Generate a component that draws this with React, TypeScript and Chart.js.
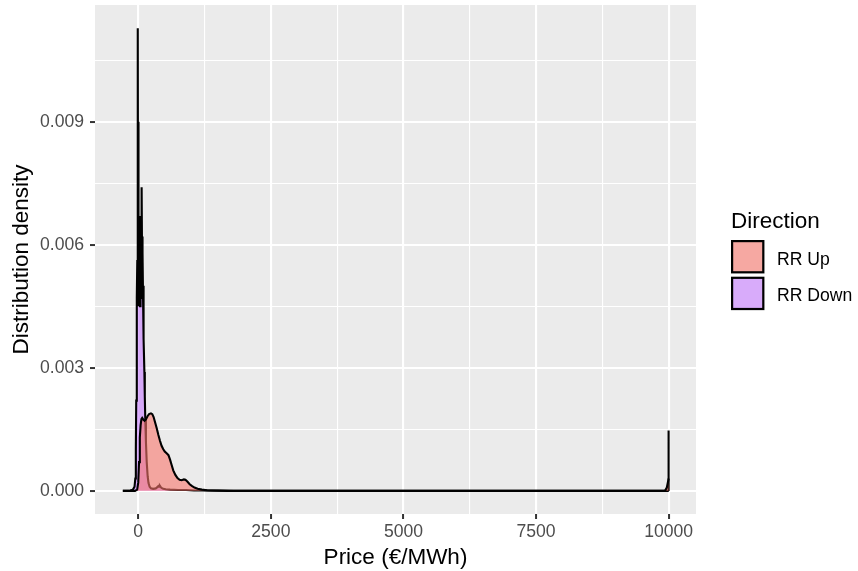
import { useEffect, useRef } from 'react';
import { Chart, registerables } from 'chart.js';

Chart.register(...registerables);

// ---- data ----
const seriesNames = ['RR Up', 'RR Down'];

const upPrice = [-290, -60, -20, 0, 15, 30, 45, 60, 75, 95, 120, 145, 175, 205, 240, 265, 290, 320, 350, 380, 410, 440, 470, 500, 540, 570, 600, 630, 660, 700, 740, 780, 820, 860, 890, 930, 970, 1010, 1060, 1120, 1200, 1300, 1500, 1800, 2100, 9930, 9965, 10000];
const upDensity = [0, 0, 0.00003, 0.0002, 0.0007, 0.0013, 0.0016, 0.00175, 0.00178, 0.00174, 0.00171, 0.00174, 0.00182, 0.00187, 0.00189, 0.00187, 0.0018, 0.00166, 0.00152, 0.00136, 0.00122, 0.0011, 0.00102, 0.00096, 0.00091, 0.00087, 0.00076, 0.00063, 0.0005, 0.00039, 0.00031, 0.00027, 0.00026, 0.00028, 0.00027, 0.00022, 0.00016, 0.00012, 0.00008, 0.00005, 0.00003, 0.000015, 0.000008, 0.000004, 0, 0, 0.00008, 0.0003];

const downPrice = [-290, -150, -100, -70, -55, -45, -38, -30, -24, -18, -12, -8, -6, -4, -2, 0, 2, 4, 6, 8, 10, 13, 16, 19, 22, 25, 28, 31, 34, 37, 40, 43, 46, 50, 54, 58, 62, 66, 70, 73, 77, 81, 85, 90, 95, 100, 108, 116, 124, 132, 145, 160, 178, 194, 215, 240, 280, 330, 360, 380, 395, 410, 425, 440, 470, 520, 600, 750, 900, 1050, 1200, 1400, 1700, 9985, 9992, 9997, 10000];
const downDensity = [0, 0.00001, 0.00003, 0.0001, 0.0003, 0.001, 0.0022, 0.0036, 0.0047, 0.0056, 0.0063, 0.0072, 0.01128, 0.0066, 0.0049, 0.009, 0.0051, 0.0087, 0.0046, 0.0063, 0.0045, 0.0066, 0.0047, 0.0065, 0.0046, 0.0067, 0.0048, 0.0063, 0.0045, 0.0066, 0.0047, 0.0064, 0.0046, 0.0065, 0.0047, 0.0062, 0.0048, 0.006, 0.0074, 0.0055, 0.0062, 0.005, 0.0058, 0.0048, 0.005, 0.0044, 0.0037, 0.0029, 0.0023, 0.0018, 0.0012, 0.0007, 0.00035, 0.00019, 0.0001, 0.00006, 0.00005, 0.00006, 0.00009, 0.00012, 0.0001, 0.00012, 0.00009, 0.00007, 0.00005, 0.00004, 0.00003, 0.00002, 0.00002, 0.00001, 0.00001, 0.000005, 0, 0, 0.00002, 0.0003, 0.00147];

const xMajor = [0, 2500, 5000, 7500, 10000];
const xTickLabels = ['0', '2500', '5000', '7500', '10000'];
const xMinor = [1250, 3750, 6250, 8750];
const yMajor = [0, 0.003, 0.006, 0.009];
const yTickLabels = ['0.000', '0.003', '0.006', '0.009'];
const yMinor = [0.0015, 0.0045, 0.0075, 0.0105];

const FONT = "'Liberation Sans', Arial, Helvetica, sans-serif";
const upFill = 'rgba(248,118,109,0.6)';
const downFill = 'rgba(199,124,255,0.6)';

export default function App() {
  const ref = useRef<HTMLCanvasElement>(null);

  useEffect(() => {
    const canvas = ref.current;
    if (!canvas) return;

    const bgPlugin = {
      id: 'panelBg',
      beforeDraw(chart: any) {
        const { ctx, chartArea: a } = chart;
        ctx.save();
        ctx.fillStyle = '#EBEBEB';
        ctx.fillRect(a.left, a.top, a.right - a.left, a.bottom - a.top);
        ctx.restore();
      },
    };

    const legendPlugin = {
      id: 'ggLegend',
      afterDraw(chart: any) {
        const ctx = chart.ctx;
        ctx.save();
        ctx.textAlign = 'left';
        ctx.textBaseline = 'alphabetic';
        ctx.fillStyle = '#000';
        ctx.font = `22.5px ${FONT}`;
        ctx.fillText('Direction', 731, 228);
        chart.data.datasets.forEach((ds: any, i: number) => {
          const top = 240 + i * 36.7;
          ctx.fillStyle = '#F2F2F2';
          ctx.fillRect(731, top, 34, 34);
          ctx.fillStyle = ds.backgroundColor;
          ctx.fillRect(732, top + 1, 32, 32);
          ctx.lineWidth = 2.2;
          ctx.strokeStyle = '#000';
          ctx.strokeRect(732.1, top + 1.1, 31.2, 31.2);
          ctx.fillStyle = '#000';
          ctx.font = `17.6px ${FONT}`;
          ctx.fillText(ds.label, 777, top + 24.5);
        });
        ctx.restore();
      },
    };

    const gridOpts = (majors: number[]) => ({
      color: '#FFFFFF',
      lineWidth: (c: any) => (c.tick && majors.includes(c.tick.value) ? 2.1 : 1.1),
      tickColor: (c: any) => (c.tick && majors.includes(c.tick.value) ? '#333333' : 'rgba(0,0,0,0)'),
      tickWidth: (c: any) => (c.tick && majors.includes(c.tick.value) ? 2 : 0),
      tickLength: 5,
      drawTicks: true,
    });

    const chart = new Chart(canvas, {
      type: 'line',
      data: {
        datasets: [
          {
            label: seriesNames[0],
            data: upPrice.map((x, i) => ({ x, y: upDensity[i] })),
            backgroundColor: upFill,
            borderColor: '#000000',
            borderWidth: 2.1,
            fill: 'origin',
            pointRadius: 0,
            tension: 0,
          },
          {
            label: seriesNames[1],
            data: downPrice.map((x, i) => ({ x, y: downDensity[i] })),
            backgroundColor: downFill,
            borderColor: '#000000',
            borderWidth: 2.1,
            fill: 'origin',
            pointRadius: 0,
            tension: 0,
          },
        ],
      },
      options: {
        animation: false,
        responsive: false,
        events: [],
        layout: { padding: { top: 5, right: 162, left: 0, bottom: 0 } },
        plugins: { legend: { display: false }, tooltip: { enabled: false } },
        scales: {
          x: {
            type: 'linear',
            min: -815,
            max: 10515,
            afterBuildTicks: (s: any) => {
              s.ticks = [...xMajor, ...xMinor].sort((a, b) => a - b).map((v) => ({ value: v }));
            },
            afterFit: (s: any) => {
              s.height = 57;
              s.paddingLeft = 0;
              s.paddingRight = 0;
            },
            ticks: {
              autoSkip: false,
              maxRotation: 0,
              minRotation: 0,
              padding: 3,
              color: '#4D4D4D',
              font: { size: 17.6, family: FONT },
              callback: (v: any) => {
                const i = xMajor.indexOf(Number(v));
                return i >= 0 ? xTickLabels[i] : '';
              },
            },
            grid: gridOpts(xMajor),
            border: { display: false },
            title: {
              display: true,
              text: 'Price (€/MWh)',
              color: '#000000',
              font: { size: 22.5, family: FONT },
              padding: { top: 0, bottom: 0 },
            },
          },
          y: {
            type: 'linear',
            min: -0.000564,
            max: 0.011844,
            afterBuildTicks: (s: any) => {
              s.ticks = [...yMajor, ...yMinor].sort((a, b) => a - b).map((v) => ({ value: v }));
            },
            afterFit: (s: any) => {
              s.width = 95;
              s.paddingTop = 0;
              s.paddingBottom = 0;
            },
            ticks: {
              autoSkip: false,
              padding: 6,
              color: '#4D4D4D',
              font: { size: 17.6, family: FONT },
              callback: (v: any) => {
                const i = yMajor.indexOf(Number(v));
                return i >= 0 ? yTickLabels[i] : '';
              },
            },
            grid: gridOpts(yMajor),
            border: { display: false },
            title: {
              display: true,
              text: 'Distribution density',
              color: '#000000',
              font: { size: 22.5, family: FONT },
              padding: { top: 8, bottom: 0 },
            },
          },
        },
      },
      plugins: [bgPlugin, legendPlugin],
    } as any);

    return () => chart.destroy();
  }, []);

  return (
    <div style={{ position: 'absolute', left: 0, top: 0, width: 858, height: 571, background: '#FFFFFF' }}>
      <canvas ref={ref} width={858} height={571} style={{ display: 'block' }} />
    </div>
  );
}
